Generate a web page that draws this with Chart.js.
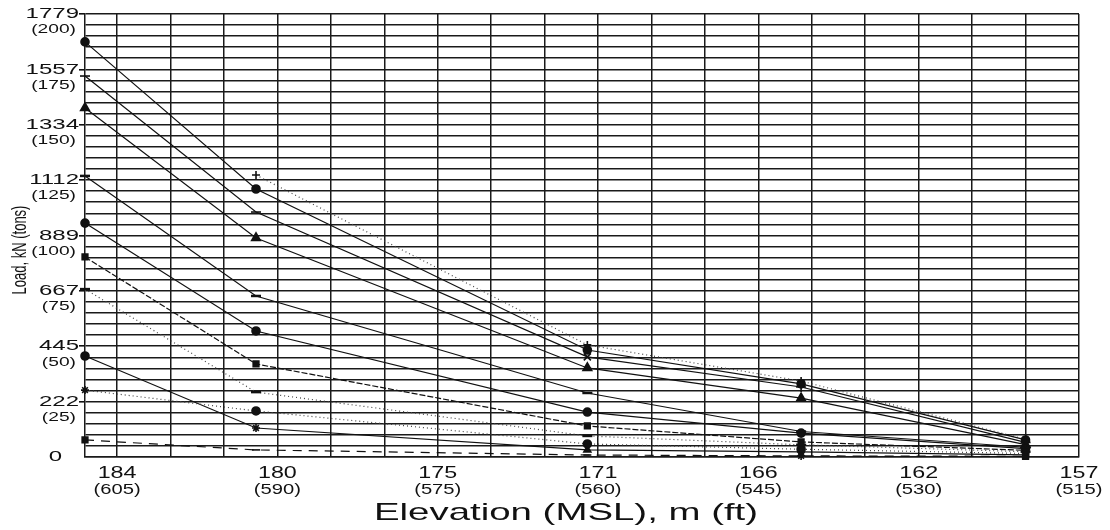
<!DOCTYPE html>
<html>
<head>
<meta charset="utf-8">
<style>html,body{margin:0;padding:0;background:#fff}canvas{display:block}</style>
<script src="https://cdn.jsdelivr.net/npm/chart.js@4/dist/chart.umd.min.js"></script>
</head>
<body>
<canvas id="c" width="1110" height="530"></canvas>
<script>
// ---- data (elevation in ft, load in tons) ----
const elevFt = [608, 592, 561, 541, 520];
const xTickFt = [605, 590, 575, 560, 545, 530, 515];
const xTickM = ['184', '180', '175', '171', '166', '162', '157'];
const yTickTons = [0, 25, 50, 75, 100, 125, 150, 175, 200];
const yTickKN = ['0', '222', '445', '667', '889', '1112', '1334', '1557', '1779'];

const s1 = [187.4, 121.0, 48.3, 33.0, 7.7];
const s2 = [null, 127.3, 50.6, 34.3, 8.0];
const s3 = [172.0, 110.6, 45.2, 31.6, 6.6];
const s4 = [157.6, 98.9, 40.2, 26.6, 5.6];
const s5 = [126.9, 72.7, 28.9, 11.5, 4.4];
const s6 = [105.6, 56.9, 20.3, 10.8, 3.8];
const s7 = [90.3, 42.0, 14.0, 6.8, 3.0];
const s8 = [75.8, 29.3, 9.5, 5.5, 2.4];
const s9 = [30.2, 20.8, 5.9, 3.5, 1.6];
const s10 = [45.6, 13.1, 3.2, 2.3, 1.0];
const s11 = [7.7, 3.2, 0.9, 0.5, 0.3];

// ---- styles ----
const INK = '#111';
const seriesDefs = [
  { v: s1, marker: 'circle', dash: [], r: 4 },
  { v: s2, marker: 'cross', dash: [1, 3], r: 4 },
  { v: s3, marker: ['line', 'line', 'crossRot', 'cross', 'star'], dash: [], r: 5 },
  { v: s4, marker: 'triangle', dash: [], r: 5 },
  { v: s5, marker: 'line', dash: [], r: 5 },
  { v: s6, marker: 'circle', dash: [], r: 4 },
  { v: s7, marker: 'rect', dash: [6, 2], r: 4 },
  { v: s8, marker: 'line', dash: [1, 3], r: 5 },
  { v: s9, marker: ['star', 'circle', 'circle', 'circle', 'rect'], dash: [1, 3], r: 4 },
  { v: s10, marker: ['circle', 'star', 'triangle', 'star', 'rect'], dash: [], r: 4 },
  { v: s11, marker: ['rect', 'line', 'line', 'star', 'rect'], dash: [9, 7], r: 4 }
];

const datasets = seriesDefs.map(d => ({
  data: elevFt.map((x, i) => ({ x: x, y: d.v[i] })),
  borderColor: d.dash.length && d.dash[0] < 3 ? '#444' : INK,
  borderWidth: 1.2,
  borderDash: d.dash,
  pointStyle: d.marker,
  pointRadius: d.r,
  pointBackgroundColor: INK,
  pointBorderColor: INK,
  pointBorderWidth: d.marker === 'line' ? 2.5 : 1.6,
  tension: 0,
  fill: false,
  clip: false,
  spanGaps: false
}));

const FONT = '"Liberation Sans", Arial, sans-serif';
const textPlugin = {
  id: 'axisText',
  afterDraw(chart) {
    const ctx = chart.ctx;
    const xs = chart.scales.x, ys = chart.scales.y;
    function stretched(txt, px, py, size, sx, align) {
      ctx.save();
      ctx.translate(px, py);
      ctx.scale(sx, 1);
      ctx.font = size + 'px ' + FONT;
      ctx.fillStyle = INK;
      ctx.textAlign = align;
      ctx.textBaseline = 'middle';
      ctx.fillText(txt, 0, 0);
      ctx.restore();
    }
    yTickTons.forEach((t, i) => {
      const py = ys.getPixelForValue(t);
      stretched(yTickKN[i], t === 0 ? 62 : 79, py, 15, 1.6, 'right');
      if (t !== 0) stretched('(' + t + ')', 76, py + 16, 12, 1.6, 'right');
    });
    xTickFt.forEach((f, i) => {
      const px = xs.getPixelForValue(f);
      stretched(xTickM[i], px, 473, 17, 1.37, 'center');
      stretched('(' + f + ')', px, 490, 14, 1.44, 'center');
    });
    stretched('Elevation (MSL), m (ft)', 566, 513, 24, 1.6, 'center');
    ctx.save();
    ctx.translate(20, 250);
    ctx.rotate(-Math.PI / 2);
    ctx.scale(1, 1.6);
    ctx.font = '13px ' + FONT;
    ctx.fillStyle = INK;
    ctx.textAlign = 'center';
    ctx.textBaseline = 'middle';
    ctx.fillText('Load, kN (tons)', 0, 0);
    ctx.restore();
  }
};

const GRID = '#1a1a1a';
new Chart(document.getElementById('c'), {
  type: 'line',
  data: { datasets: datasets },
  options: {
    responsive: false,
    animation: false,
    events: [],
    layout: { padding: { top: 14, right: 31, left: 0, bottom: 0 } },
    plugins: { legend: { display: false }, tooltip: { enabled: false } },
    scales: {
      x: {
        type: 'linear',
        min: 515,
        max: 608,
        reverse: true,
        afterBuildTicks: s => {
          const t = [];
          for (let v = 605; v >= 515; v -= 5) t.push({ value: v });
          s.ticks = t;
        },
        afterFit: s => { s.height = 73; },
        ticks: { display: false },
        grid: { color: GRID, lineWidth: 1.5, drawTicks: false },
        border: { color: GRID, width: 1.5 }
      },
      y: {
        type: 'linear',
        min: 0,
        max: 200,
        ticks: { display: false, stepSize: 5 },
        afterFit: s => { s.width = 85; },
        grid: {
          color: GRID,
          lineWidth: 1.6,
          drawTicks: true,
          tickLength: 6,
          tickColor: c => (c.tick && c.tick.value % 25 === 0 && c.tick.value > 0) ? INK : 'rgba(0,0,0,0)'
        },
        border: { color: GRID, width: 1.5 }
      }
    }
  },
  plugins: [textPlugin]
});
</script>
</body>
</html>
